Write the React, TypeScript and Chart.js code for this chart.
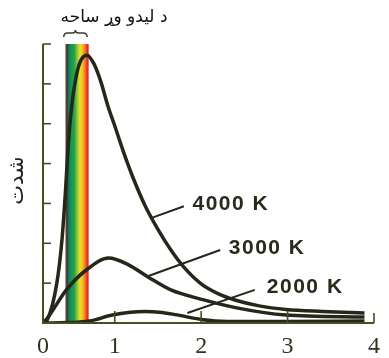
import React, { useEffect, useRef } from 'react';
import { Chart, registerables } from 'chart.js';

Chart.register(...registerables);

// ---- data (wavelength in μm on x, intensity in arbitrary units on y) ----
const xAxisMin = 0.17;
const xAxisMax = 4;
const yAxisMax = 7;
const xTickValues = [0.17, 1, 2, 3, 4];
const xTickLabels = ['0', '1', '2', '3', '4'];
const yTickValues = [1, 2, 3, 4, 5, 6, 7];

const curve4000X = [0.17, 0.22, 0.33, 0.39, 0.43, 0.46, 0.5, 0.56, 0.61, 0.68, 0.76, 0.84, 0.92, 1.0, 1.1, 1.22, 1.35, 1.5, 1.65, 1.8, 2.0, 2.2, 2.4, 2.67, 2.98, 3.4, 3.89];
const curve4000Y = [0, 0.08, 1.0, 2.1, 3.3, 4.4, 5.4, 6.25, 6.6, 6.72, 6.5, 6.05, 5.45, 4.95, 4.3, 3.6, 2.95, 2.35, 1.83, 1.4, 0.98, 0.73, 0.57, 0.43, 0.34, 0.29, 0.25];

const curve3000X = [0.17, 0.23, 0.44, 0.67, 0.93, 1.16, 1.39, 1.65, 2.03, 2.41, 2.98, 3.89];
const curve3000Y = [0, 0.15, 0.83, 1.33, 1.63, 1.46, 1.15, 0.83, 0.58, 0.38, 0.2, 0.15];

const curve2000X = [0.17, 0.45, 0.71, 0.97, 1.18, 1.35, 1.52, 1.7, 2.0, 2.3, 3.0, 3.89];
const curve2000Y = [0, 0.01, 0.05, 0.2, 0.27, 0.29, 0.27, 0.21, 0.09, 0.04, 0.04, 0.05];

const seriesLabels = ['4000 K', '3000 K', '2000 K'];
// leader lines: [x0, y0, x1, y1]
const leader4000 = [1.42, 2.63, 1.8, 2.93];
const leader3000 = [1.39, 1.18, 2.22, 1.83];
const leader2000 = [1.84, 0.25, 2.62, 0.83];
// label anchors (left edge x, centre y)
const labelAnchorX = [1.9, 2.32, 2.76];
const labelAnchorY = [2.99, 1.88, 0.9];

const visibleBand = [0.43, 0.7];
const braceRange = [0.41, 0.68];
const visibleTitle = 'د لیدو وړ ساحه';
const yAxisTitle = 'شدت';

const curveColor = '#23281a';
const axisColor = '#4b4c24';

const toPoints = (xs: number[], ys: number[]) => xs.map((x, i) => ({ x, y: ys[i] }));
const leaderPoints = (l: number[]) => [{ x: l[0], y: l[1] }, { x: l[2], y: l[3] }];

const decorPlugin = {
  id: 'decor',
  beforeDatasetsDraw(chart: any) {
    const { ctx } = chart;
    const xs = chart.scales.x;
    const ys = chart.scales.y;
    const x0 = xs.getPixelForValue(visibleBand[0]);
    const x1 = xs.getPixelForValue(visibleBand[1]);
    const yTop = ys.getPixelForValue(yAxisMax);
    const yBot = ys.getPixelForValue(0);
    const g = ctx.createLinearGradient(x0, 0, x1, 0);
    g.addColorStop(0, '#7a4630');
    g.addColorStop(0.07, '#3d3a2c');
    g.addColorStop(0.13, '#1d6e62');
    g.addColorStop(0.25, '#139a50');
    g.addColorStop(0.38, '#27a246');
    g.addColorStop(0.5, '#8cc544');
    g.addColorStop(0.62, '#eee124');
    g.addColorStop(0.75, '#f6b522');
    g.addColorStop(0.86, '#ee6a24');
    g.addColorStop(0.94, '#e4262a');
    g.addColorStop(1, '#ee5a46');
    ctx.save();
    ctx.fillStyle = g;
    ctx.fillRect(x0, yTop, x1 - x0, yBot - yTop);
    ctx.restore();
  },
  afterDatasetsDraw(chart: any) {
    const { ctx } = chart;
    const xs = chart.scales.x;
    const ys = chart.scales.y;
    const ox = xs.getPixelForValue(xAxisMin);
    const oy = ys.getPixelForValue(0);
    const ex = xs.getPixelForValue(xAxisMax);
    const ty = ys.getPixelForValue(yAxisMax);
    ctx.save();
    ctx.strokeStyle = axisColor;
    ctx.lineWidth = 2;
    ctx.lineCap = 'butt';
    ctx.beginPath();
    ctx.moveTo(ox, ty);
    ctx.lineTo(ox, oy);
    ctx.lineTo(ex, oy);
    ctx.stroke();
    // y ticks (inward)
    ctx.lineWidth = 1.6;
    yTickValues.forEach((v) => {
      const py = ys.getPixelForValue(v);
      ctx.beginPath();
      ctx.moveTo(ox, py);
      ctx.lineTo(ox + 8, py);
      ctx.stroke();
    });
    // x ticks (inward)
    xTickValues.slice(1).forEach((v, i, arr) => {
      const px = xs.getPixelForValue(v);
      const len = i === arr.length - 1 ? 10 : 12;
      ctx.beginPath();
      ctx.moveTo(px, oy);
      ctx.lineTo(px, oy - len);
      ctx.stroke();
    });

    // brace above visible band
    const b0 = xs.getPixelForValue(braceRange[0]);
    const b1 = xs.getPixelForValue(braceRange[1]);
    const bm = (b0 + b1) / 2;
    const by = ty - 11;
    ctx.strokeStyle = '#3a3b2a';
    ctx.lineWidth = 1.5;
    ctx.beginPath();
    ctx.moveTo(b0, by + 4);
    ctx.quadraticCurveTo(b0, by, b0 + 4, by);
    ctx.lineTo(bm - 3, by);
    ctx.quadraticCurveTo(bm, by, bm, by - 3);
    ctx.quadraticCurveTo(bm, by, bm + 3, by);
    ctx.lineTo(b1 - 4, by);
    ctx.quadraticCurveTo(b1, by, b1, by + 4);
    ctx.stroke();

    // series labels
    ctx.fillStyle = '#262b1c';
    ctx.font = 'bold 21px "Liberation Sans", Arial, sans-serif';
    (ctx as any).letterSpacing = '1.5px';
    ctx.textAlign = 'left';
    ctx.textBaseline = 'middle';
    seriesLabels.forEach((t, i) => {
      ctx.fillText(t, xs.getPixelForValue(labelAnchorX[i]), ys.getPixelForValue(labelAnchorY[i]));
    });
    (ctx as any).letterSpacing = '0px';

    // title of visible region
    ctx.fillStyle = '#111111';
    ctx.font = '17px "DejaVu Sans", sans-serif';
    ctx.textAlign = 'center';
    ctx.textBaseline = 'middle';
    ctx.direction = 'rtl';
    ctx.fillText(visibleTitle, 114, 18);

    // y axis title
    ctx.save();
    ctx.translate(18, (ty + oy) / 2 - 3);
    ctx.rotate(-Math.PI / 2);
    ctx.font = '21px "DejaVu Sans", sans-serif';
    ctx.fillStyle = '#222222';
    ctx.fillText(yAxisTitle, 0, 0);
    ctx.restore();
    ctx.restore();
  },
};

export default function App() {
  const ref = useRef<HTMLCanvasElement>(null);
  useEffect(() => {
    if (!ref.current) return;
    const curveStyle = {
      borderColor: curveColor,
      borderWidth: 3.5,
      pointRadius: 0,
      fill: false,
      cubicInterpolationMode: 'monotone' as const,
    };
    const leaderStyle = {
      borderColor: curveColor,
      borderWidth: 2,
      pointRadius: 0,
      fill: false,
      tension: 0,
    };
    const chart = new Chart(ref.current, {
      type: 'line',
      data: {
        datasets: [
          { label: seriesLabels[0], data: toPoints(curve4000X, curve4000Y), ...curveStyle },
          { label: seriesLabels[1], data: toPoints(curve3000X, curve3000Y), ...curveStyle },
          { label: seriesLabels[2], data: toPoints(curve2000X, curve2000Y), ...curveStyle },
          { label: 'l1', data: leaderPoints(leader4000), ...leaderStyle },
          { label: 'l2', data: leaderPoints(leader3000), ...leaderStyle },
          { label: 'l3', data: leaderPoints(leader2000), ...leaderStyle },
        ] as any,
      },
      options: {
        animation: false,
        responsive: false,
        maintainAspectRatio: false,
        layout: { padding: { top: 44, left: 43, right: 9, bottom: 0 } },
        plugins: {
          legend: { display: false },
          tooltip: { enabled: false },
          title: { display: false },
        },
        scales: {
          x: {
            type: 'linear',
            min: xAxisMin,
            max: xAxisMax,
            afterBuildTicks: (s: any) => {
              s.ticks = xTickValues.map((v) => ({ value: v }));
            },
            afterFit: (s: any) => {
              s.height = 35;
            },
            ticks: {
              autoSkip: false,
              maxRotation: 0,
              padding: 9,
              color: '#2f3320',
              font: { family: '"Liberation Serif", "Times New Roman", serif', size: 24 },
              callback: (_v: any, i: number) => xTickLabels[i],
            },
            grid: { display: false, drawTicks: false, tickLength: 0 },
            border: { display: false },
          },
          y: { display: false, min: 0, max: yAxisMax },
        },
      } as any,
      plugins: [decorPlugin],
    });
    return () => chart.destroy();
  }, []);
  return (
    <div style={{ position: 'absolute', left: 0, top: 0, width: 389, height: 358, background: '#ffffff' }}>
      <canvas ref={ref} width={389} height={358} style={{ display: 'block', width: 389, height: 358 }} />
    </div>
  );
}
